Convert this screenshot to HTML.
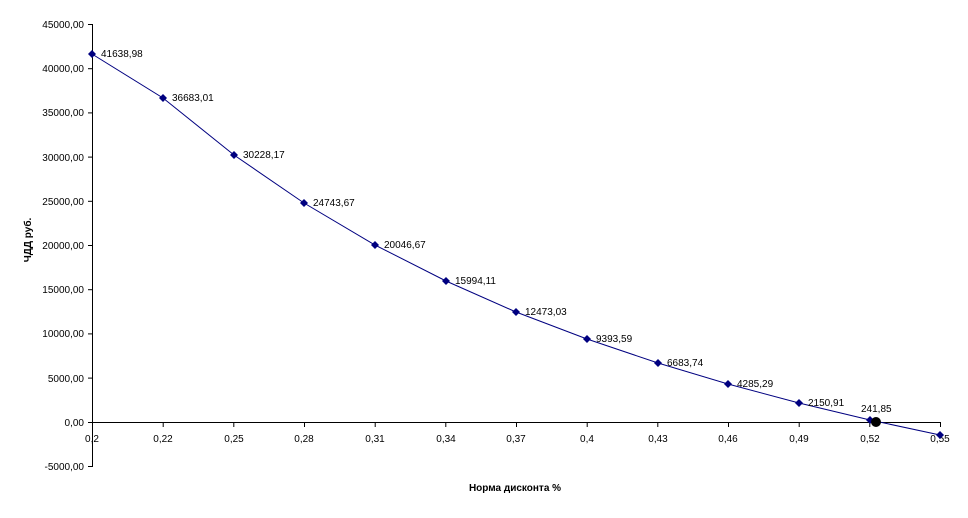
<!DOCTYPE html>
<html><head><meta charset="utf-8"><style>
body{margin:0;background:#fff}
svg text{font-family:"Liberation Sans",sans-serif;font-size:10px;fill:#000}
</style></head><body>
<svg width="968" height="513" xmlns="http://www.w3.org/2000/svg">
<g stroke="#000" stroke-width="1">
<line x1="92.5" y1="24" x2="92.5" y2="467"/>
<line x1="92" y1="422.5" x2="940" y2="422.5"/>
<g id="yt">
<line x1="88" y1="24.5" x2="92" y2="24.5"/><line x1="88" y1="68.7" x2="92" y2="68.7"/>
<line x1="88" y1="112.9" x2="92" y2="112.9"/><line x1="88" y1="157.1" x2="92" y2="157.1"/>
<line x1="88" y1="201.3" x2="92" y2="201.3"/><line x1="88" y1="245.5" x2="92" y2="245.5"/>
<line x1="88" y1="289.7" x2="92" y2="289.7"/><line x1="88" y1="333.9" x2="92" y2="333.9"/>
<line x1="88" y1="378.1" x2="92" y2="378.1"/><line x1="88" y1="422.5" x2="92" y2="422.5"/>
<line x1="88" y1="466.5" x2="92" y2="466.5"/>
</g>
<line x1="92.5" y1="422" x2="92.5" y2="427"/><line x1="163.2" y1="422" x2="163.2" y2="427"/>
<line x1="233.8" y1="422" x2="233.8" y2="427"/><line x1="304.5" y1="422" x2="304.5" y2="427"/>
<line x1="375.2" y1="422" x2="375.2" y2="427"/><line x1="445.8" y1="422" x2="445.8" y2="427"/>
<line x1="516.5" y1="422" x2="516.5" y2="427"/><line x1="587.2" y1="422" x2="587.2" y2="427"/>
<line x1="657.8" y1="422" x2="657.8" y2="427"/><line x1="728.5" y1="422" x2="728.5" y2="427"/>
<line x1="799.2" y1="422" x2="799.2" y2="427"/><line x1="869.8" y1="422" x2="869.8" y2="427"/>
<line x1="940.5" y1="422" x2="940.5" y2="427"/>
</g>
<g text-anchor="end">
<text x="84" y="28">45000,00</text><text x="84" y="72">40000,00</text>
<text x="84" y="116">35000,00</text><text x="84" y="161">30000,00</text>
<text x="84" y="205">25000,00</text><text x="84" y="249">20000,00</text>
<text x="84" y="293">15000,00</text><text x="84" y="337">10000,00</text>
<text x="84" y="382">5000,00</text><text x="84" y="426">0,00</text>
<text x="84" y="470">-5000,00</text>
</g>
<g text-anchor="middle">
<text x="92" y="442">0,2</text><text x="163" y="442">0,22</text><text x="234" y="442">0,25</text>
<text x="304" y="442">0,28</text><text x="375" y="442">0,31</text><text x="446" y="442">0,34</text>
<text x="516" y="442">0,37</text><text x="587" y="442">0,4</text><text x="658" y="442">0,43</text>
<text x="728" y="442">0,46</text><text x="799" y="442">0,49</text><text x="870" y="442">0,52</text>
<text x="940" y="442">0,55</text>
</g>
<polyline fill="none" stroke="#000080" stroke-width="1" points="92,54 163,98 234,155 304,203 375,245 446,281 516,312 587,339 658,363 728,384 799,403 870,420 940,435"/>
<g fill="#000080">
<path d="M92,50l4,4l-4,4l-4,-4z"/><path d="M163,94l4,4l-4,4l-4,-4z"/><path d="M234,151l4,4l-4,4l-4,-4z"/>
<path d="M304,199l4,4l-4,4l-4,-4z"/><path d="M375,241l4,4l-4,4l-4,-4z"/><path d="M446,277l4,4l-4,4l-4,-4z"/>
<path d="M516,308l4,4l-4,4l-4,-4z"/><path d="M587,335l4,4l-4,4l-4,-4z"/><path d="M658,359l4,4l-4,4l-4,-4z"/>
<path d="M728,380l4,4l-4,4l-4,-4z"/><path d="M799,399l4,4l-4,4l-4,-4z"/><path d="M870,416l4,4l-4,4l-4,-4z"/>
<path d="M940,431l4,4l-4,4l-4,-4z"/>
</g>
<circle cx="876" cy="422" r="5" fill="#000"/>
<text x="101" y="57">41638,98</text><text x="172" y="101">36683,01</text><text x="243" y="158">30228,17</text>
<text x="313" y="206">24743,67</text><text x="384" y="248">20046,67</text><text x="455" y="284">15994,11</text>
<text x="525" y="315">12473,03</text><text x="596" y="342">9393,59</text><text x="667" y="366">6683,74</text>
<text x="737" y="387">4285,29</text><text x="808" y="406">2150,91</text><text x="861" y="412">241,85</text>
<text x="515" y="491" text-anchor="middle" font-weight="bold">Норма дисконта %</text>
<text transform="translate(31,240) rotate(-90)" text-anchor="middle" font-weight="bold">ЧДД руб.</text>
</svg>
</body></html>
